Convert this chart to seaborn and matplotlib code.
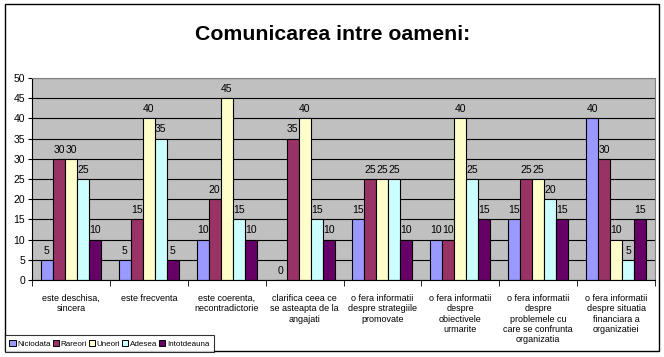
import pandas as pd
import numpy as np
import matplotlib
matplotlib.use("Agg")
import matplotlib.pyplot as plt
import seaborn as sns
from matplotlib.patches import Rectangle

# date
categorii = ["este deschisa,\nsincera", "este frecventa", "este coerenta,\nnecontradictorie",
             "clarifica ceea ce\nse asteapta de la\nangajati",
             "o fera informatii\ndespre strategiile\npromovate",
             "o fera informatii\ndespre\nobiectivele\nurmarite",
             "o fera informatii\ndespre\nproblemele cu\ncare se confrunta\norganizatia",
             "o fera informatii\ndespre situatia\nfinanciara a\norganizatiei"]
serii = ["Niciodata", "Rareori", "Uneori", "Adesea", "Intotdeauna"]
niciodata = [5, 5, 10, 0, 15, 10, 15, 40]
rareori = [30, 15, 20, 35, 25, 10, 25, 30]
uneori = [30, 40, 45, 40, 25, 40, 25, 10]
adesea = [25, 35, 15, 15, 25, 25, 20, 5]
intotdeauna = [10, 5, 10, 10, 10, 15, 15, 15]
culori = ["#9999FF", "#993366", "#FFFFCC", "#CCFFFF", "#660066"]

valori = [niciodata, rareori, uneori, adesea, intotdeauna]
rows = []
for s, vals in zip(serii, valori):
    for c, v in zip(categorii, vals):
        rows.append({"cat": c, "serie": s, "val": v})
df = pd.DataFrame(rows)

sns.set_style("white")
plt.rcParams["font.family"] = ["Liberation Sans", "DejaVu Sans"]
plt.rcParams["text.color"] = "black"
plt.rcParams["xtick.color"] = "black"
plt.rcParams["ytick.color"] = "black"

fig = plt.figure(figsize=(6.64, 3.57), dpi=100)
ax = fig.add_axes([32/664, 1-280/357, 623/664, 202/357])
ax.set_facecolor("#C0C0C0")

sns.barplot(data=df, x="cat", y="val", hue="serie", order=categorii, hue_order=serii,
            palette=culori, edgecolor="black", linewidth=0.8, width=0.77, gap=0,
            saturation=1, ax=ax, legend=False, errorbar=None)

for cont in ax.containers:
    ax.bar_label(cont, fontsize=7.5, padding=3, color="black")

ax.set_ylim(0, 50)
ax.set_yticks(np.arange(0, 51, 5))
ax.yaxis.grid(True, color="black", linewidth=0.8)
ax.set_axisbelow(True)
ax.set_xlim(-0.5, len(categorii) - 0.5)
ax.set_xlabel("")
ax.set_ylabel("")
ax.tick_params(axis="y", labelsize=7.5, length=3, left=True, pad=2)

# etichete la centru, liniute la granite
ax.set_xticks(np.arange(len(categorii)))
ax.set_xticklabels(categorii, fontsize=6.5, va="top", linespacing=1.2)
ax.tick_params(axis="x", length=0, pad=10)
ax.set_xticks(np.arange(len(categorii) + 1) - 0.5, minor=True)
ax.tick_params(axis="x", which="minor", length=4, bottom=True, direction="out")

for side in ["top", "right"]:
    ax.spines[side].set_color("#808080")
ax.spines["left"].set_color("black")
ax.spines["bottom"].set_color("black")

fig.text(333/664, 1-35/357, "Comunicarea intre oameni:", ha="center", va="center",
         fontsize=15.3, fontweight="bold", color="black")

handles = [Rectangle((0, 0), 1, 1, facecolor=c, edgecolor="black", linewidth=0.7) for c in culori]
leg = fig.legend(handles, serii, loc="lower left", bbox_to_anchor=(5/664, 1-352/357),
                 ncol=5, fontsize=5.8, frameon=True, fancybox=False, handlelength=0.8,
                 handleheight=0.8, handletextpad=0.2, columnspacing=0.2, borderpad=0.55,
                 borderaxespad=0)
leg.get_frame().set_edgecolor("black")
leg.get_frame().set_linewidth(0.8)

fig.patches.append(Rectangle((5/664, 1-351/357), 654/664, 347/357, transform=fig.transFigure,
                             fill=False, edgecolor="black", linewidth=1))

fig.savefig("out.png", dpi=100)
